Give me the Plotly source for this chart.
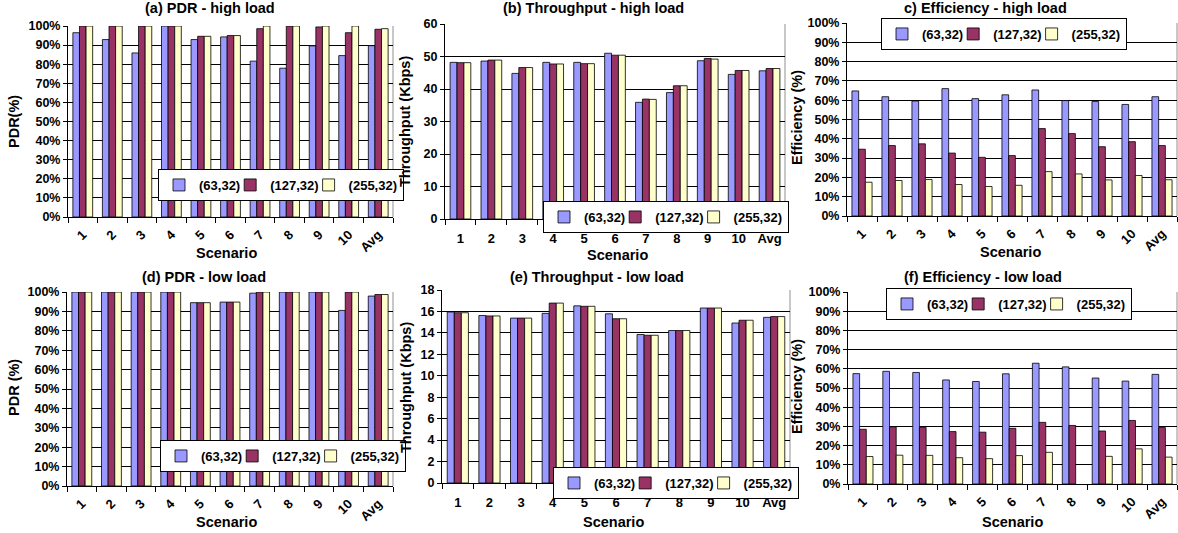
import plotly.graph_objects as go

W, H = 1178, 533

scenarios = ["1", "2", "3", "4", "5", "6", "7", "8", "9", "10", "Avg"]
series_names = ["(63,32)", "(127,32)", "(255,32)"]
series_colors = ["#9999FF", "#993366", "#FFFFCC"]

# (a) PDR - high load (%)
pdr_high_63 = [96.5, 92.9, 85.9, 100, 92.9, 94.3, 81.6, 77.9, 89.6, 84.5, 89.7]
pdr_high_127 = [100, 100, 100, 100, 94.6, 95.0, 98.6, 100, 99.5, 96.5, 98.3]
pdr_high_255 = [100, 100, 100, 100, 94.6, 95.0, 100, 100, 100, 100, 98.6]

# (b) Throughput - high load (Kbps)
thr_high_63 = [48.2, 48.6, 44.8, 48.2, 48.2, 51.0, 35.9, 38.9, 48.7, 44.5, 45.6]
thr_high_127 = [48.1, 48.9, 46.6, 47.7, 47.8, 50.4, 36.9, 41.0, 49.4, 45.7, 46.3]
thr_high_255 = [48.1, 48.9, 46.6, 47.7, 47.8, 50.4, 36.8, 41.0, 49.2, 45.7, 46.3]

# (c) Efficiency - high load (%)
eff_high_63 = [64.8, 61.8, 59.6, 66.0, 60.8, 62.8, 65.3, 59.8, 59.3, 57.8, 61.8]
eff_high_127 = [34.6, 36.5, 37.4, 32.6, 30.4, 31.3, 45.3, 42.7, 35.9, 38.5, 36.5]
eff_high_255 = [17.5, 18.4, 18.9, 16.3, 15.3, 15.9, 23.0, 21.8, 18.7, 21.0, 18.8]

# (d) PDR - low load (%)
pdr_low_63 = [100, 100, 100, 100, 94.5, 94.8, 99.4, 100, 100, 90.5, 97.9]
pdr_low_127 = [100, 100, 100, 100, 94.5, 94.8, 100, 100, 100, 100, 98.7]
pdr_low_255 = [100, 100, 100, 100, 94.5, 94.8, 100, 100, 100, 100, 98.7]

# (e) Throughput - low load (Kbps)
thr_low_63 = [15.95, 15.62, 15.38, 15.82, 16.52, 15.78, 13.85, 14.22, 16.32, 14.92, 15.45]
thr_low_127 = [15.88, 15.58, 15.38, 16.78, 16.48, 15.32, 13.78, 14.22, 16.32, 15.18, 15.52]
thr_low_255 = [15.88, 15.58, 15.38, 16.78, 16.48, 15.32, 13.78, 14.22, 16.32, 15.18, 15.52]

# (f) Efficiency - low load (%)
eff_low_63 = [57.5, 58.7, 58.1, 54.2, 53.4, 57.4, 62.9, 61.0, 55.2, 53.6, 57.1]
eff_low_127 = [28.5, 29.8, 29.4, 27.3, 27.0, 29.0, 32.1, 30.5, 27.6, 33.1, 29.4]
eff_low_255 = [14.3, 15.0, 14.9, 13.7, 13.2, 14.8, 16.5, None, 14.4, 18.3, 14.0]

titles = ["(a) PDR - high load", "(b) Throughput - high load", "c) Efficiency - high load",
          "(d) PDR - low load", "(e) Throughput - low load", "(f) Efficiency - low load"]
ytitles = ["PDR(%)", "Throughput (Kbps)", "Efficiency (%)",
           "PDR (%)", "Throughput (Kbps)", "Efficiency (%)"]
xtitle = "Scenario"

panels_data = [
    [pdr_high_63, pdr_high_127, pdr_high_255],
    [thr_high_63, thr_high_127, thr_high_255],
    [eff_high_63, eff_high_127, eff_high_255],
    [pdr_low_63, pdr_low_127, pdr_low_255],
    [thr_low_63, thr_low_127, thr_low_255],
    [eff_low_63, eff_low_127, eff_low_255],
]

# ---- layout (pixels): plot area left, right, top, bottom
areas = [(68, 393, 26, 217), (445, 785, 24, 219), (847, 1177, 23, 216),
         (67, 393, 292, 486), (442, 790, 290, 483), (848, 1177, 292, 484)]
yranges = [(0, 100, 10, "%"), (0, 60, 10, ""), (0, 100, 10, "%"),
           (0, 100, 10, "%"), (0, 18, 2, ""), (0, 100, 10, "%")]
tickangles = [-45, 0, -45, -45, 0, -45]
title_pos = [(210, 8), (593, 8), (985, 8), (204, 277), (597, 277), (983, 277)]
xtitle_pos = [(227, 253), (617, 255), (1010, 252), (227, 522), (613, 522), (1012, 522)]
ytitle_pos = [(14, 122), (405, 122), (797, 118), (14, 388), (406, 388), (797, 387)]
# legend centres (x, y)
legend_pos = [(281, 185), (666, 217), (1004, 34), (283, 456), (676, 483), (1009, 304)]

FONT = "Arial, Liberation Sans, sans-serif"
LEG_SIZE = 13
ARIAL_BOLD = {"(": 333, ")": 333, ",": 278}


def text_w(s, size):
    return sum(ARIAL_BOLD.get(c, 556) for c in s) / 1000.0 * size


fig = go.Figure()
layout = dict(
    width=W, height=H, margin=dict(l=0, r=0, t=0, b=0),
    paper_bgcolor="white", plot_bgcolor="white",
    barmode="group", bargap=0.33, bargroupgap=0.0,
    font=dict(family=FONT, color="black", size=12, weight="bold"),
    showlegend=True, hovermode=False,
)
annotations = []
shapes = []

for i in range(6):
    n = i + 1
    xa = "x" if n == 1 else f"x{n}"
    ya = "y" if n == 1 else f"y{n}"
    lg = "legend" if n == 1 else f"legend{n}"
    for s in range(3):
        lw = max(text_w(series_names[s], LEG_SIZE) - 15, 1) if s < 2 else None
        fig.add_trace(go.Bar(
            x=scenarios, y=panels_data[i][s], name=series_names[s],
            marker=dict(color=series_colors[s], line=dict(color="black", width=0.8)),
            xaxis=xa, yaxis=ya, legend=lg, legendwidth=lw,
        ))
    l, r, t, b = areas[i]
    y0, y1, dt, suf = yranges[i]
    layout["xaxis" if n == 1 else f"xaxis{n}"] = dict(
        domain=[l / W, r / W], anchor=ya, type="category",
        tickson="boundaries", ticks="outside", ticklen=5, tickcolor="black",
        showline=True, linecolor="black", linewidth=1, showgrid=False,
        tickangle=tickangles[i], automargin=False,
        ticklabelstandoff=(7 if tickangles[i] == 0 else 4),
        tickfont=dict(family=FONT, size=13, color="black", weight="bold"),
    )
    layout["yaxis" if n == 1 else f"yaxis{n}"] = dict(
        domain=[1 - b / H, 1 - t / H], anchor=xa, range=[y0, y1], dtick=dt,
        ticksuffix=suf, ticks="outside", ticklen=4, tickcolor="black",
        showline=True, linecolor="black", linewidth=1,
        showgrid=True, gridcolor="black", gridwidth=1, zeroline=False,
        automargin=False,
        tickfont=dict(family=FONT, size=12.5, color="black", weight="bold"),
    )
    lx, ly = legend_pos[i]
    layout[lg] = dict(
        orientation="h", x=lx / W, y=1 - ly / H, xanchor="center", yanchor="middle",
        xref="paper", yref="paper",
        bgcolor="white", bordercolor="black", borderwidth=1,
        itemwidth=30, tracegroupgap=0,
        font=dict(family=FONT, size=LEG_SIZE, color="black", weight="bold"),
    )
    shapes.append(dict(type="line", xref=f"{xa} domain", yref=f"{ya} domain",
                       x0=1, x1=1, y0=0, y1=1, line=dict(color="#909090", width=1),
                       layer="below"))
    tx, ty = title_pos[i]
    annotations.append(dict(text=titles[i], x=tx / W, y=1 - ty / H, xref="paper", yref="paper",
                            showarrow=False, xanchor="center", yanchor="middle",
                            font=dict(family=FONT, size=14.5, color="black", weight="bold")))
    sx, sy = xtitle_pos[i]
    annotations.append(dict(text=xtitle, x=sx / W, y=1 - sy / H, xref="paper", yref="paper",
                            showarrow=False, xanchor="center", yanchor="middle",
                            font=dict(family=FONT, size=14.5, color="black", weight="bold")))
    yx, yy = ytitle_pos[i]
    annotations.append(dict(text=ytitles[i], x=yx / W, y=1 - yy / H, xref="paper", yref="paper",
                            showarrow=False, xanchor="center", yanchor="middle", textangle=-90,
                            font=dict(family=FONT, size=14.5, color="black", weight="bold")))

layout["annotations"] = annotations
layout["shapes"] = shapes
fig.update_layout(**layout)
fig.write_html("out.html", config={"displayModeBar": False, "staticPlot": True},
               post_script="document.body.style.margin='0px';")
